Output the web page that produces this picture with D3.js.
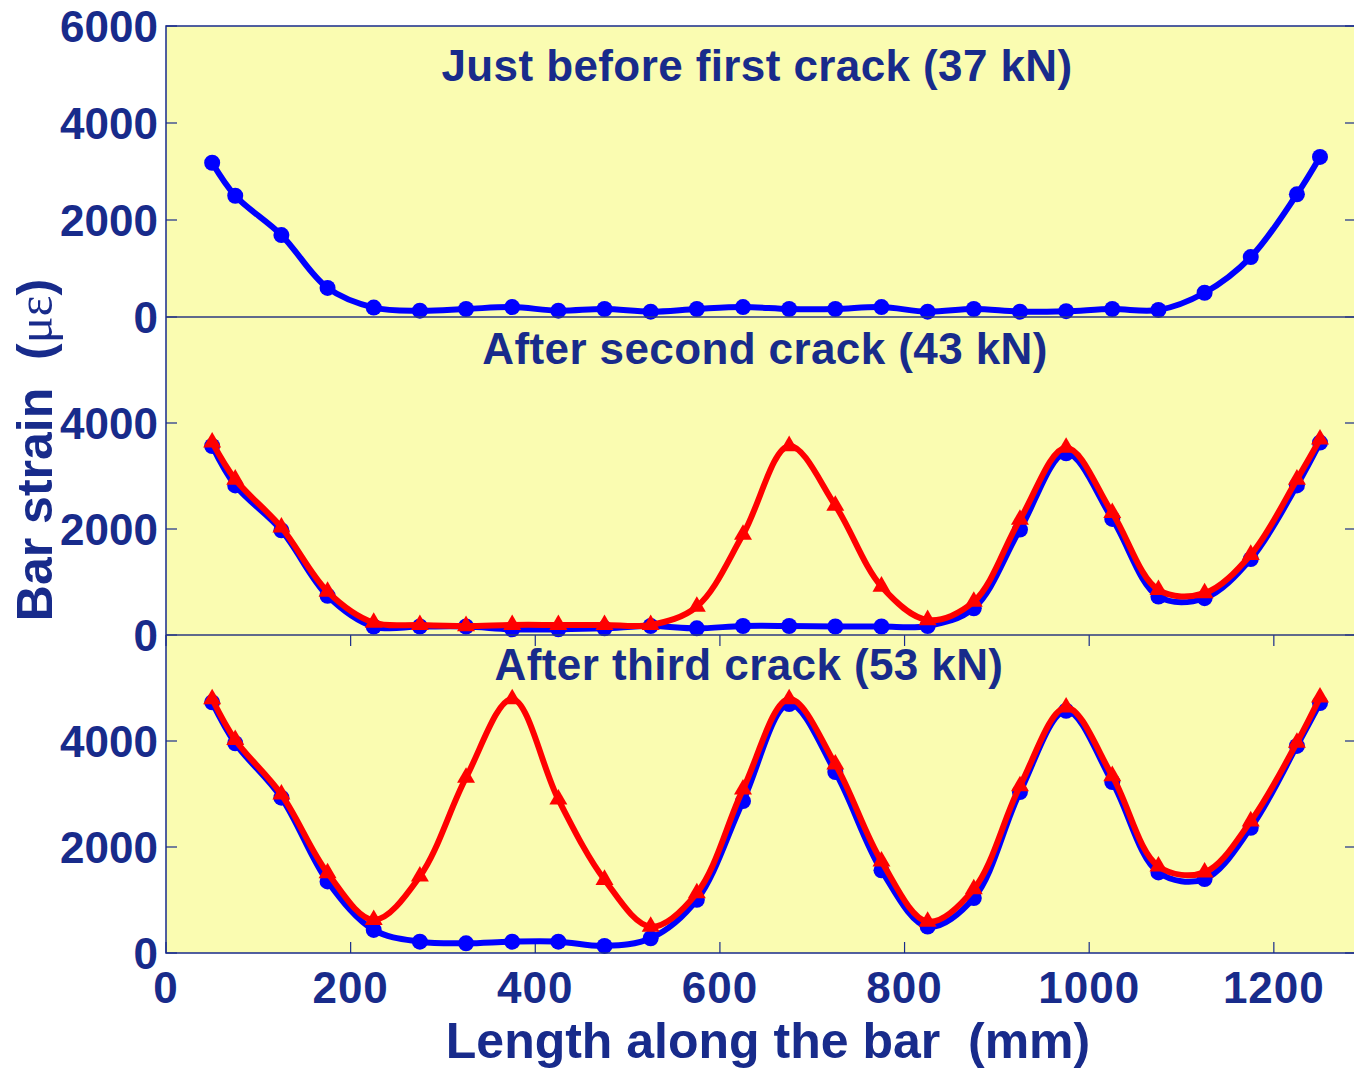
<!DOCTYPE html>
<html>
<head>
<meta charset="utf-8">
<script src="https://cdn.jsdelivr.net/npm/d3@7"></script>
<style>
  body { margin: 0; background: #fff; }
  svg text { font-family: Arial, "Liberation Sans", sans-serif; font-weight: bold; fill: #182b8b; white-space: pre; }
</style>
</head>
<body>
<div class="chart"></div>
<script>
// positions of the gauges along the bar (mm)
const gaugeX = [50, 75, 125, 175, 225, 275, 325, 375, 425, 475, 525, 575, 625,
                675, 725, 775, 825, 875, 925, 975, 1025, 1075, 1125, 1175, 1225, 1250];

// just before first crack (37 kN)
const strain37 = [3180, 2500, 1690, 600, 195, 130, 165, 205, 130, 165, 110, 165, 205,
                  165, 165, 205, 110, 165, 110, 120, 165, 145, 500, 1235, 2530, 3300];

// after second crack (43 kN): blue = previous, red = current
const strain43Blue = [3566, 2822, 1975, 740, 160, 160, 160, 107, 107, 126, 170, 126, 170,
                      170, 160, 160, 170, 505, 1989, 3428, 2191, 726, 694, 1433, 2822, 3630];
const strain43Red = [3636, 2935, 2030, 820, 233, 190, 170, 190, 190, 190, 190, 536, 1894,
                     3566, 2443, 915, 284, 631, 2178, 3535, 2304, 852, 789, 1515, 2935, 3693];

// after third crack (53 kN)
const strain53Blue = [4729, 3958, 2930, 1350, 435, 214, 183, 214, 214, 133, 278, 1004, 2866,
                      4697, 3415, 1559, 498, 1036, 3036, 4571, 3226, 1521, 1395, 2361, 3908, 4716];
const strain53Red = [4792, 4021, 2992, 1509, 625, 1446, 3308, 4792, 2898, 1383, 498, 1130, 3087,
                     4792, 3561, 1730, 593, 1206, 3150, 4634, 3340, 1635, 1521, 2487, 3971, 4824];

const panelTitles = ["Just before first crack (37 kN)", "After second crack (43 kN)", "After third crack (53 kN)"];
const xTicks = [0, 200, 400, 600, 800, 1000, 1200];
const yTicksTop = [0, 2000, 4000, 6000];
const yTicksLower = [0, 2000, 4000];

const width = 1354, height = 1068;
const left = 166, right = 1356;
const navy = "#182b8b";

const svg = d3.select(".chart").append("svg")
    .attr("width", width)
    .attr("height", height);

const x = d3.scaleLinear().domain([0, 1289]).range([left, right]);

const panels = [
    {top: 26, bottom: 317, ticks: yTicksTop, series: [{vals: strain37, color: "#0000ff", marker: "circle"}], title: panelTitles[0], titleY: 81, titleX: 757, xTicks: false},
    {top: 317, bottom: 635, ticks: yTicksLower, series: [{vals: strain43Blue, color: "#0000ff", marker: "circle"}, {vals: strain43Red, color: "#ff0000", marker: "triangle"}], title: panelTitles[1], titleY: 364, titleX: 765, xTicks: false},
    {top: 635, bottom: 953, ticks: yTicksLower, series: [{vals: strain53Blue, color: "#0000ff", marker: "circle"}, {vals: strain53Red, color: "#ff0000", marker: "triangle"}], title: panelTitles[2], titleY: 680, titleX: 749, xTicks: true}
];

// background
svg.append("rect")
    .attr("x", left)
    .attr("y", 26)
    .attr("width", right - left)
    .attr("height", 953 - 26)
    .style("fill", "#fafcb1");

const line = d3.line()
    .x((d, i) => x(gaugeX[i]))
    .curve(d3.curveCatmullRom.alpha(0.5));

const tri = d3.symbol().type(d3.symbolTriangle).size(140);

panels.forEach((p) => {
    const y = d3.scaleLinear().domain([0, 6000]).range([p.bottom, p.top]);
    const g = svg.append("g");

    // y ticks, left and right
    p.ticks.forEach(t => {
        g.append("line").attr("x1", left).attr("x2", left + 11).attr("y1", y(t)).attr("y2", y(t))
            .style("stroke", navy).style("stroke-width", 1.2);
        g.append("line").attr("x1", right - 11).attr("x2", right).attr("y1", y(t)).attr("y2", y(t))
            .style("stroke", navy).style("stroke-width", 1.2);
        g.append("text")
            .text(t)
            .attr("x", 158)
            .attr("y", y(t))
            .attr("dy", "0.36em")
            .style("text-anchor", "end")
            .style("font-size", "44px");
    });

    if (p.xTicks) {
        xTicks.forEach(t => {
            g.append("line").attr("x1", x(t)).attr("x2", x(t)).attr("y1", p.top).attr("y2", p.top + 11)
                .style("stroke", navy).style("stroke-width", 1.2);
            g.append("line").attr("x1", x(t)).attr("x2", x(t)).attr("y1", p.bottom - 11).attr("y2", p.bottom)
                .style("stroke", navy).style("stroke-width", 1.2);
        });
    }

    g.append("text")
        .text(p.title)
        .attr("x", p.titleX)
        .attr("y", p.titleY)
        .style("text-anchor", "middle")
        .style("font-size", "44px")
        .style("letter-spacing", "0.4px");

    p.series.forEach(s => {
        line.y(d => y(d));
        g.append("path")
            .datum(s.vals)
            .attr("d", line)
            .style("fill", "none")
            .style("stroke", s.color)
            .style("stroke-width", 6)
            .style("stroke-linejoin", "round");

        if (s.marker === "circle") {
            g.selectAll(null)
                .data(s.vals)
                .enter()
                .append("circle")
                .attr("cx", (d, i) => x(gaugeX[i]))
                .attr("cy", d => y(d))
                .attr("r", 8)
                .style("fill", s.color);
        } else {
            g.selectAll(null)
                .data(s.vals)
                .enter()
                .append("path")
                .attr("d", tri)
                .attr("transform", (d, i) => "translate(" + x(gaugeX[i]) + "," + y(d) + ")")
                .style("fill", s.color);
        }
    });
});

// frame and panel dividers
svg.append("rect")
    .attr("x", left)
    .attr("y", 26)
    .attr("width", right - left)
    .attr("height", 953 - 26)
    .style("fill", "none")
    .style("stroke", navy)
    .style("stroke-width", 1.5);

[317, 635].forEach(yy => {
    svg.append("line")
        .attr("x1", left).attr("x2", right)
        .attr("y1", yy).attr("y2", yy)
        .style("stroke", "#2b3a80")
        .style("stroke-width", 1.5);
});

// x tick labels
xTicks.forEach(t => {
    svg.append("text")
        .text(t)
        .attr("x", x(t))
        .attr("y", 1003)
        .style("text-anchor", "middle")
        .style("font-size", "44px")
        .style("letter-spacing", "1px");
});

svg.append("text")
    .text("Length along the bar  (mm)")
    .attr("x", 768)
    .attr("y", 1058)
    .style("text-anchor", "middle")
    .style("font-size", "50px");

const yLabel = svg.append("text")
    .attr("transform", "translate(52,450) rotate(-90)")
    .style("text-anchor", "middle")
    .style("font-size", "50px");
yLabel.append("tspan").text("Bar strain  (");
yLabel.append("tspan").text("με").style("font-weight", "normal").style("font-family", "'Liberation Serif', serif");
yLabel.append("tspan").text(")");
</script>
</body>
</html>
